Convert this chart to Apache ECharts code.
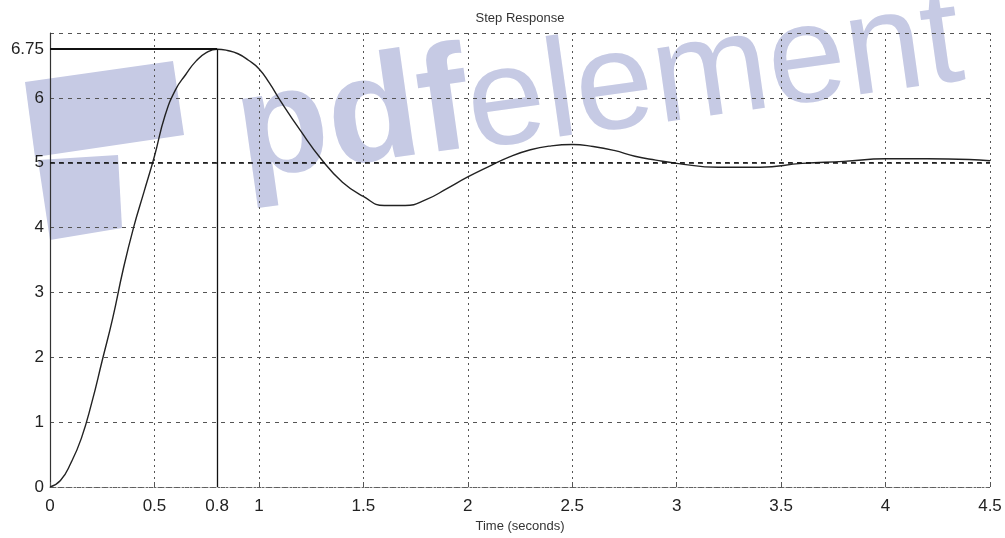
<!DOCTYPE html>
<html style="height: 100%">
<head>
    <meta charset="utf-8">
    <title>Step Response</title>
    <script src="https://cdn.jsdelivr.net/npm/echarts@6/dist/echarts.min.js"></script>
</head>
<body style="height: 100%; margin: 0; background: #fff">
    <div id="chart" style="width: 1005px; height: 538px"></div>
    <script>
        // values
        const timeValues = [0, 0.05, 0.1, 0.15, 0.2, 0.25, 0.3, 0.35, 0.4, 0.45, 0.5, 0.55, 0.6, 0.65, 0.7, 0.75,
            0.8, 0.85, 0.9, 0.95, 1.0, 1.05, 1.1, 1.2, 1.3, 1.4, 1.5, 1.6, 1.7, 1.8, 1.9, 2.0, 2.1, 2.2, 2.3,
            2.4, 2.5, 2.6, 2.7, 2.8, 2.9, 3.0, 3.2, 3.4, 3.6, 3.8, 4.0, 4.2, 4.4, 4.5];
        const amplitudeValues = [0, 0.1, 0.37, 0.75, 1.3, 1.95, 2.6, 3.35, 4.0, 4.55, 5.1, 5.72, 6.12, 6.36, 6.57, 6.7,
            6.75, 6.73, 6.68, 6.58, 6.45, 6.23, 5.97, 5.49, 5.05, 4.7, 4.48, 4.34, 4.34, 4.43, 4.6, 4.78, 4.94, 5.09, 5.2,
            5.26, 5.28, 5.25, 5.19, 5.1, 5.04, 4.99, 4.93, 4.93, 4.99, 5.02, 5.06, 5.06, 5.05, 5.03];
        const xTickLabels = [0, 0.5, 0.8, 1, 1.5, 2, 2.5, 3, 3.5, 4, 4.5];
        const yTickLabels = [0, 1, 2, 3, 4, 5, 6, 6.75];
        const peakTime = 0.8;
        const peakValue = 6.75;
        const finalValue = 5;

        const lavender = '#c6cae4';
        const chart = echarts.init(document.getElementById('chart'), null, { renderer: 'canvas' });

        const option = {
            animation: false,
            title: {
                text: 'Step Response',
                left: 515, top: 7, textAlign: 'center',
                textStyle: { fontFamily: 'Liberation Sans', fontSize: 13, fontWeight: 'normal', color: '#333' }
            },
            grid: { left: 50, right: 15, top: 33, bottom: 51, containLabel: false, outerBoundsMode: 'none' },
            // pdfelement watermark of the scan
            graphic: [
                { type: 'polygon', z: -10, shape: { points: [[25, 82], [173, 61], [184, 135], [35, 157]] }, style: { fill: lavender } },
                { type: 'polygon', z: -10, shape: { points: [[38, 160], [118, 155], [122, 228], [50, 240]] }, style: { fill: lavender } },
                {
                    type: 'group', x: 248, y: 212, rotation: 8 * Math.PI / 180, z: -10,
                    children: [
                        { type: 'text', z: -10, x: 0, y: 0, style: { text: 'pdf', fill: lavender, fontFamily: 'Liberation Sans', fontWeight: 'bold', fontSize: 150, verticalAlign: 'bottom' } },
                        { type: 'text', z: -10, x: 232, y: 0, style: { text: 'element', fill: lavender, fontFamily: 'Liberation Sans', fontWeight: 'normal', fontSize: 140, verticalAlign: 'bottom' } }
                    ]
                }
            ],
            xAxis: {
                type: 'value', min: 0, max: 4.5, interval: 0.5,
                name: 'Time (seconds)', nameLocation: 'middle', nameGap: 33,
                nameTextStyle: { fontFamily: 'Liberation Sans', fontSize: 13, color: '#333' },
                axisLine: { show: true, lineStyle: { color: '#666', type: [2, 2] } },
                axisTick: { show: true, inside: true, length: 5, lineStyle: { color: '#555' } },
                axisLabel: {
                    customValues: xTickLabels, margin: 11,
                    fontFamily: 'Liberation Sans', fontSize: 17, color: '#222'
                },
                splitLine: { show: true, lineStyle: { color: '#555', type: [2, 4], width: 1 } }
            },
            yAxis: {
                type: 'value', min: 0, max: 7, interval: 1,
                name: 'Amplitude', nameLocation: 'middle', nameGap: 31, nameRotate: 90,
                nameTextStyle: { fontFamily: 'Liberation Sans', fontSize: 13, color: '#333' },
                axisLine: { show: true, lineStyle: { color: '#333', width: 1.2 } },
                axisTick: { show: false },
                axisLabel: {
                    customValues: yTickLabels, margin: 6,
                    fontFamily: 'Liberation Sans', fontSize: 17, color: '#222'
                },
                splitLine: { show: true, lineStyle: { color: '#555', type: [4, 5], width: 1 } }
            },
            series: [{
                type: 'line',
                data: timeValues.map((t, i) => [t, amplitudeValues[i]]),
                smooth: 0.5,
                symbol: 'none',
                lineStyle: { color: '#222', width: 1.4 },
                markLine: {
                    symbol: 'none', silent: true, label: { show: false },
                    data: [
                        { yAxis: finalValue, lineStyle: { color: '#111', type: [5, 4], width: 1.6 } },
                        [{ coord: [0, peakValue] }, { coord: [peakTime, peakValue], lineStyle: { color: '#111', type: 'solid', width: 2 } }],
                        [{ coord: [peakTime, 0] }, { coord: [peakTime, peakValue], lineStyle: { color: '#111', type: 'solid', width: 1.3 } }]
                    ]
                }
            }]
        };
        chart.setOption(option);
    </script>
</body>
</html>
